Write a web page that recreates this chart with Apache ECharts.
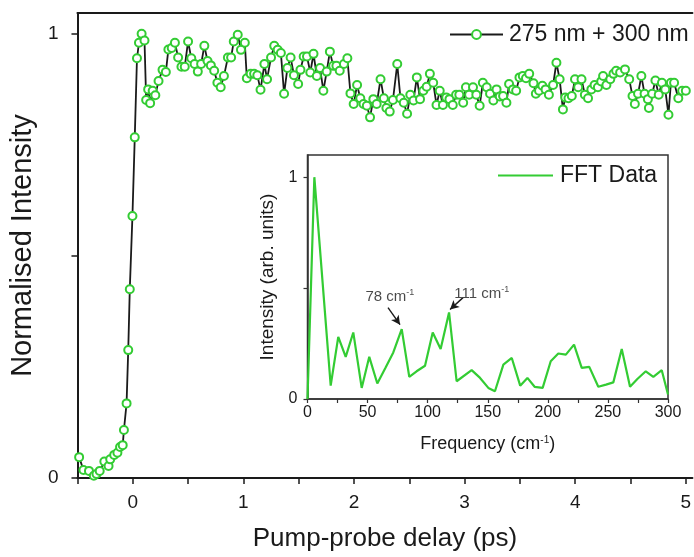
<!DOCTYPE html>
<html>
<head>
<meta charset="utf-8">
<script src="https://cdn.jsdelivr.net/npm/echarts@6/dist/echarts.min.js"></script>
<style>
html,body{margin:0;padding:0;background:#fff;}
#c{width:694px;height:557px;}
</style>
</head>
<body>
<div id="c"></div>
<script>
// Main trace: pump-probe delay (ps) vs normalised intensity
const delayX = [
 -0.485,-0.446,-0.396,-0.352,-0.328,-0.299,-0.257,-0.219,-0.204,-0.168,
 -0.139,-0.115,-0.091,-0.080,-0.056,-0.041,-0.027,-0.003,0.018,0.038,
 0.056,0.080,0.106,0.121,0.139,0.157,0.180,0.204,0.233,0.269,
 0.299,0.322,0.352,0.381,0.410,0.440,0.470,0.500,0.529,0.559,
 0.588,0.618,0.647,0.676,0.706,0.736,0.765,0.795,0.824,0.860,
 0.889,0.913,0.949,0.978,1.013,1.031,1.066,1.097,1.126,1.155,
 1.190,1.214,1.250,1.279,1.310,1.339,1.368,1.398,1.427,1.457,
 1.495,1.516,1.545,1.575,1.605,1.634,1.664,1.693,1.723,1.753,
 1.782,1.812,1.841,1.871,1.909,1.940,1.968,1.997,2.028,2.057,
 2.086,2.116,2.145,2.175,2.205,2.240,2.270,2.293,2.323,2.352,
 2.391,2.420,2.450,2.480,2.509,2.538,2.568,2.597,2.627,2.657,
 2.686,2.716,2.746,2.775,2.804,2.834,2.863,2.893,2.923,2.952,
 2.987,3.012,3.041,3.076,3.106,3.136,3.165,3.200,3.230,3.260,
 3.289,3.318,3.348,3.378,3.402,3.437,3.466,3.496,3.526,3.555,
 3.584,3.623,3.644,3.673,3.703,3.732,3.762,3.800,3.830,3.859,
 3.889,3.910,3.939,3.969,3.998,4.027,4.057,4.087,4.116,4.146,
 4.175,4.205,4.235,4.252,4.282,4.317,4.346,4.370,4.406,4.450,
 4.488,4.518,4.539,4.568,4.598,4.627,4.657,4.666,4.696,4.725,
 4.755,4.784,4.814,4.843,4.865,4.894,4.932,4.967,5.000
];
const delayY = [
 0.047,0.018,0.016,0.005,0.009,0.016,0.037,0.027,0.042,0.052,
 0.057,0.070,0.074,0.108,0.168,0.288,0.425,0.590,0.767,0.945,
 0.980,1.000,0.985,0.851,0.875,0.844,0.872,0.862,0.894,0.919,
 0.914,0.965,0.968,0.980,0.947,0.926,0.926,0.983,0.945,0.932,
 0.915,0.932,0.973,0.939,0.929,0.917,0.890,0.880,0.905,0.947,
 0.947,0.983,0.998,0.964,0.980,0.900,0.910,0.910,0.907,0.874,
 0.932,0.898,0.947,0.973,0.964,0.957,0.865,0.923,0.947,0.907,
 0.887,0.919,0.949,0.949,0.913,0.955,0.905,0.923,0.872,0.915,
 0.960,0.928,0.928,0.917,0.932,0.945,0.866,0.842,0.885,0.855,
 0.842,0.838,0.812,0.853,0.842,0.898,0.855,0.833,0.825,0.851,
 0.932,0.855,0.845,0.820,0.863,0.850,0.902,0.853,0.872,0.881,
 0.910,0.890,0.840,0.872,0.840,0.857,0.853,0.840,0.863,0.863,
 0.845,0.880,0.863,0.880,0.863,0.838,0.890,0.880,0.865,0.850,
 0.875,0.859,0.860,0.845,0.887,0.875,0.872,0.902,0.905,0.900,
 0.910,0.889,0.865,0.872,0.883,0.875,0.863,0.885,0.935,0.898,
 0.830,0.857,0.855,0.860,0.898,0.880,0.898,0.863,0.855,0.875,
 0.885,0.880,0.893,0.905,0.885,0.898,0.910,0.917,0.913,0.920,
 0.898,0.860,0.842,0.865,0.905,0.865,0.853,0.833,0.865,0.895,
 0.863,0.890,0.875,0.818,0.890,0.890,0.855,0.872,0.872
];
// Inset: FFT spectrum
const fftX = [0,5.7,19.3,25.6,31.8,38.1,45.1,51.4,58.1,64.8,71.4,78.4,84.7,90.8,97.8,104.2,110.8,117.8,124.1,136.6,143.6,150.5,156,163,170,177,183,189,195.7,202.4,208.7,215,221.8,228.2,234.5,242,248.4,254.5,261.5,268.4,274.5,281.5,287.8,294.8,300];
const fftY = [0,1.0,0.06,0.28,0.19,0.30,0.05,0.19,0.07,0.14,0.21,0.315,0.10,0.125,0.15,0.30,0.225,0.39,0.08,0.13,0.095,0.05,0.035,0.155,0.185,0.06,0.095,0.055,0.05,0.17,0.205,0.2,0.245,0.14,0.145,0.055,0.065,0.075,0.225,0.055,0.09,0.125,0.10,0.13,0.02];
// Tick labels
const mainXTicks = [-0.5,0,0.5,1,1.5,2,2.5,3,3.5,4,4.5,5];
const mainXLabels = [0,1,2,3,4,5];
const mainYTicks = [0,0.5,1];
const mainYLabels = [0,1];
const insetXTicks = [0,25,50,75,100,125,150,175,200,225,250,275,300];
const insetXLabels = [0,50,100,150,200,250,300];
const insetYTicks = [0,0.5,1];
const insetYLabels = [0,1];
// Annotations (inset)
const peakLabels = ['78', '111'];
const peakLabelPos = [[68.5,0.462],[145,0.475]];
const arrowFrom = [[67,0.412],[129.4,0.457]];
const arrowTo = [[77,0.335],[118.6,0.403]];

const FONT = "'Liberation Sans', Arial, Helvetica, sans-serif";
const GREEN = '#33cc33';
const INK = '#1a1a1a';

const chart = echarts.init(document.getElementById('c'), null, {renderer: 'canvas'});
const supRich = {sup: {fontSize: 10, fontFamily: FONT, color: INK, padding: [0, 0, 9, 0]}};

const option = {
  animation: false,
  backgroundColor: '#fff',
  textStyle: {fontFamily: FONT, color: INK},
  grid: [
    {left: 67, right: 0, top: 13, bottom: 79},
    {left: 307.5, right: 26, top: 155, bottom: 158, show: true, borderColor: '#333', borderWidth: 1.5, backgroundColor: 'rgba(0,0,0,0)'}
  ],
  legend: [
    {data: ['275 nm + 300 nm'], left: 449, top: 23, padding: 0, itemWidth: 53, itemHeight: 11, itemGap: 0,
     textStyle: {fontSize: 23, fontFamily: FONT, color: INK, padding: [0,0,0,1]}},
    {data: [{name: 'FFT Data', icon: 'rect'}], left: 498, top: 164, padding: 0, itemWidth: 55, itemHeight: 2.2,
     itemStyle: {color: GREEN},
     textStyle: {fontSize: 23, fontFamily: FONT, color: INK, padding: [0,0,0,2]}}
  ],
  xAxis: [
    {gridIndex: 0, type: 'value', min: -0.5, max: 5.06, position: 'bottom',
     axisLine: {onZero: false, lineStyle: {color: INK, width: 2}},
     axisTick: {inside: false, length: 6, customValues: mainXTicks, lineStyle: {color: INK, width: 1.5}},
     axisLabel: {customValues: mainXLabels, fontSize: 19, color: INK, margin: 15, fontFamily: FONT},
     splitLine: {show: false},
     name: 'Pump-probe delay (ps)', nameLocation: 'middle', nameGap: 48,
     nameTextStyle: {fontSize: 26, color: INK, fontFamily: FONT}},
    {gridIndex: 0, type: 'value', min: -0.5, max: 5.06, position: 'top',
     axisLine: {onZero: false, lineStyle: {color: INK, width: 2}},
     axisTick: {show: false}, axisLabel: {show: false}, splitLine: {show: false}},
    {gridIndex: 1, type: 'value', min: 0, max: 300, position: 'bottom',
     axisLine: {onZero: false, lineStyle: {color: '#333', width: 1.5}},
     axisTick: {inside: false, length: 4, customValues: insetXTicks, lineStyle: {color: '#333', width: 1.2}},
     axisLabel: {customValues: insetXLabels, fontSize: 16, color: INK, margin: 6, fontFamily: FONT},
     splitLine: {show: false},
     name: 'Frequency (cm{sup|-1})', nameLocation: 'middle', nameGap: 36,
     nameTextStyle: {fontSize: 18, color: INK, fontFamily: FONT, rich: supRich}}
  ],
  yAxis: [
    {gridIndex: 0, type: 'value', min: 0, max: 1.047,
     axisLine: {onZero: false, lineStyle: {color: INK, width: 2}},
     axisTick: {inside: false, length: 6, customValues: mainYTicks, lineStyle: {color: INK, width: 1.5}},
     axisLabel: {customValues: mainYLabels, fontSize: 19, color: INK, margin: 19, fontFamily: FONT},
     splitLine: {show: false},
     name: 'Normalised Intensity', nameLocation: 'middle', nameGap: 32,
     nameTextStyle: {fontSize: 29, color: INK, fontFamily: FONT}},
    {gridIndex: 1, type: 'value', min: 0, max: 1.1,
     axisLine: {onZero: false, lineStyle: {color: '#333', width: 1.5}},
     axisTick: {inside: false, length: 4, customValues: insetYTicks, lineStyle: {color: '#333', width: 1.2}},
     axisLabel: {customValues: insetYLabels, fontSize: 16, color: INK, margin: 10, fontFamily: FONT},
     splitLine: {show: false},
     name: 'Intensity (arb. units)', nameLocation: 'middle', nameGap: 28,
     nameTextStyle: {fontSize: 19, color: INK, fontFamily: FONT}}
  ],
  series: [
    {name: '275 nm + 300 nm', type: 'line', xAxisIndex: 0, yAxisIndex: 0,
     data: delayX.map((x, i) => [x, delayY[i]]),
     symbol: 'emptyCircle', symbolSize: 8, showAllSymbol: true,
     lineStyle: {color: INK, width: 1.8},
     itemStyle: {color: GREEN, borderColor: GREEN, borderWidth: 1.6},
     z: 3},
    {name: 'FFT Data', type: 'line', xAxisIndex: 2, yAxisIndex: 1,
     data: fftX.map((x, i) => [x, fftY[i]]),
     symbol: 'none', lineStyle: {color: GREEN, width: 2.2}, itemStyle: {color: GREEN}},
    {name: 'annot', type: 'scatter', xAxisIndex: 2, yAxisIndex: 1,
     data: peakLabelPos.map((p, i) => [p[0], p[1], peakLabels[i]]),
     symbolSize: 1, itemStyle: {color: 'rgba(0,0,0,0)'},
     label: {show: true, position: 'inside', fontSize: 15, color: INK, fontFamily: FONT,
       formatter: p => p.value[2] + ' cm{sup|-1}', rich: {sup: {fontSize: 9, color: INK, fontFamily: FONT, padding: [0,0,8,0]}}},
     markLine: {silent: true, symbol: ['none', 'arrow'], symbolSize: [7, 9],
       lineStyle: {color: INK, width: 1.4, type: 'solid'}, label: {show: false},
       data: arrowFrom.map((a, i) => [{coord: a}, {coord: arrowTo[i]}])}}
  ]
};
chart.setOption(option);
</script>
</body>
</html>
